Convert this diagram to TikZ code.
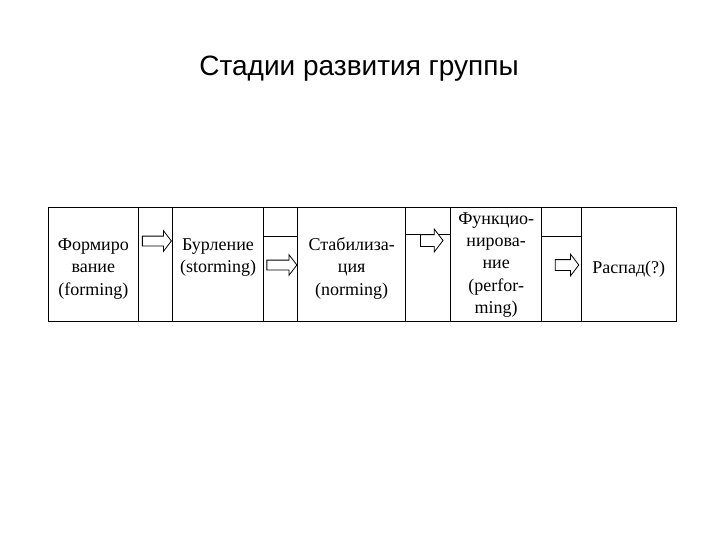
\documentclass[tikz,border=0pt]{standalone}
\usepackage{fontspec}
\setmainfont{Liberation Serif}
\newfontfamily\titlefont{Liberation Sans}
\usetikzlibrary{shapes.arrows}
\tikzstyle{stage} = [align=center, inner sep=0pt, anchor=base, font=\fontsize{18}{22.3}\selectfont]
\tikzstyle{blockarrow} = [single arrow, draw, fill=white, line width=0.8pt, inner sep=4.5pt, single arrow head extend=5.5pt, single arrow tip angle=105, minimum height=29pt]
\tikzstyle{grid} = [draw, line width=1pt]

\begin{document}
\begin{tikzpicture}[x=1pt, y=-1pt] %coordenadas em pontos, eixo y para baixo
\useasboundingbox (0,0) rectangle (720,540);

%---------------------------------------------
%Título do diagrama
%---------------------------------------------
\node[font=\titlefont\fontsize{28}{32}\selectfont, anchor=base] at (359,75.7) (titulo) {Стадии развития группы};

%---------------------------------------------
%Tabela: borda externa, colunas e linhas parciais
%---------------------------------------------
\draw[grid] (48,207.5) rectangle (676,321.7);
\foreach \x in {138.7,172.7,263.3,297.7,405.7,450.7,541.7,581.7}
  \draw[grid] (\x,207.5) -- (\x,321.7);
\draw[grid] (263.3,236.3) -- (297.7,236.3);
\draw[grid] (405.7,234.5) -- (450.7,234.5);
\draw[grid] (541.7,236.3) -- (581.7,236.3);

%---------------------------------------------
%Estágios do grupo (texto das células, âncora na última linha)
%---------------------------------------------
\node[stage] at (93.3,295) (formirovanie) {Формиро\\вание\\(forming)};
\node[stage] at (218,272.3) (burlenie) {Бурление\\(storming)};
\node[stage] at (351.7,295) (stabilizacia) {Стабилиза-\\ция\\(norming)};
\node[stage] at (496.2,313.3) (funkcionirovanie) {Функцио-\\нирова-\\ние\\(perfor-\\ming)};
\node[stage] at (628.8,273) (raspad) {Распад(?)};

%---------------------------------------------
%Setas de bloco entre os estágios
%---------------------------------------------
\node[blockarrow] at (155,241) (seta1) {};
\node[blockarrow, minimum height=30pt] at (280,265) (seta2) {};
\node[blockarrow, minimum height=22.5pt, inner sep=5.5pt, single arrow head extend=5.5pt] at (429.5,240.5) (seta3) {};
\node[blockarrow, minimum height=23.5pt, inner sep=5pt] at (565,265) (seta4) {};

\end{tikzpicture}
\end{document}
